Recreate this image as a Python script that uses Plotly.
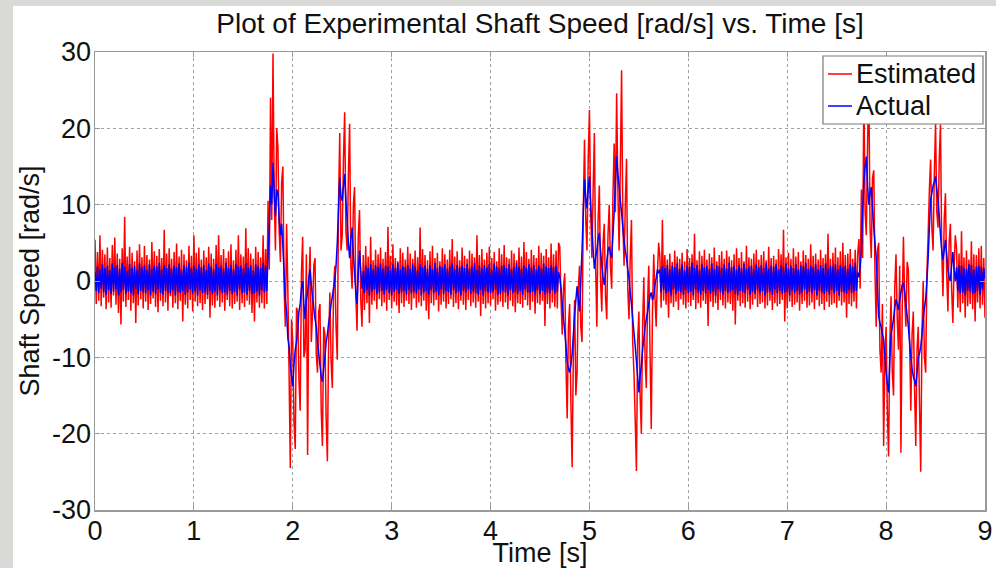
import plotly.graph_objects as go

SAMPLE_STEP = 0.0125  # s

# Estimated shaft speed [rad/s], one value per sample
estimated_speed = [
    # quiet 0.0000 - 1.7375 s
    5.4, -3.0, 3.8, -2.6, 6.0, -3.3, 4.1, -2.2, 3.5, -3.7,
    4.4, -2.8, 3.0, -3.5, 4.7, -1.9, 5.7, -3.1, 3.6, -4.2,
    2.9, -5.7, 4.3, -2.7, 8.4, -3.4, 3.2, -2.5, 4.5, -3.9,
    3.7, -2.9, 2.6, -5.5, 4.0, -3.2, 4.8, -2.4, 3.1, -3.6,
    4.6, -2.7, 3.4, -3.8, 2.8, -3.0, 5.1, -2.3, 3.9, -3.4,
    3.3, -4.1, 4.2, -2.6, 3.0, -3.3, 6.7, -2.8, 3.6, -3.9,
    4.3, -2.0, 2.9, -3.5, 3.8, -2.9, 4.9, -3.7, 3.2, -2.6,
    4.1, -5.3, 3.5, -3.1, 2.7, -3.6, 4.6, -2.5, 3.3, -4.0,
    6.0, -2.7, 3.7, -3.3, 4.4, -2.9, 2.8, -3.8, 4.0, -3.0,
    3.1, -2.4, 4.5, -4.8, 3.6, -3.2, 2.9, -3.5, 4.7, -2.6,
    6.0, -3.4, 3.4, -2.8, 4.2, -3.9, 3.0, -2.5, 3.9, -3.3,
    4.8, -3.6, 2.7, -3.0, 4.1, -2.7, 6.0, -3.8, 3.5, -2.9,
    3.2, -3.4, 6.9, -2.6, 4.3, -3.1, 3.6, -4.2, 2.9, -5.3,
    4.5, -2.8, 3.8, -3.5, 3.1, -2.9, 6.0, -3.6, 4.2, -3.0,
    # event 1.7500 - 2.7000 s
    10.5, 1.5, 24.0, 8.0, 29.8, 11.0, 4.0, 20.0, 17.5, 6.5,
    2.5, 13.0, 15.0, -1.0, -6.0, 7.5, -1.0, -12.0, -24.5, -5.0,
    -8.0, -18.5, -22.0, -3.5, -4.0, -13.0, -17.0, 1.0, 5.8, -10.0,
    -9.0, 3.5, -22.8, -1.0, 4.5, -8.0, -4.0, 2.0, 3.0, -9.5,
    -12.0, -4.0, -3.0, -17.0, -21.6, -6.0, -7.0, -18.0, -23.6, -8.0,
    -1.5, -10.5, -14.0, -1.0, 2.0, -6.0, -10.3, 10.0, 19.4, 4.0,
    6.0, 16.0, 22.1, 6.5, 4.0, 14.0, 20.6, 2.0, -1.0, 10.0,
    12.3, -2.0, -6.5, 6.0, 9.3, -2.5, -6.0,
    # quiet 2.7125 - 4.6875 s
    3.4, -3.8, 4.6,
    -2.9, 3.2, -5.5, 5.8, -3.1, 2.7, -2.6, 4.1, -3.7, 3.5,
    -2.4, 4.4, -3.3, 2.9, -2.8, 3.8, -3.9, 7.1, -2.5, 3.3,
    -3.6, 4.8, -2.7, 3.0, -3.2, 2.6, -4.2, 4.3, -2.9, 3.7,
    -3.4, 2.8, -2.6, 4.5, -3.0, 3.6, -3.8, 2.9, -2.3, 4.0,
    -3.5, 3.1, -2.8, 7.0, -3.3, 4.2, -2.6, 3.4, -3.9, 2.7,
    -5.0, 3.9, -2.9, 4.6, -3.2, 3.0, -2.5, 3.7, -4.0, 2.6,
    -3.1, 4.3, -2.7, 3.5, -3.6, 2.8, -3.0, 4.1, -2.4, 5.5,
    -3.4, 3.2, -2.9, 3.9, -3.7, 2.7, -2.6, 4.4, -3.1, 3.3,
    -3.8, 2.9, -2.5, 4.0, -3.3, 3.6, -2.8, 3.1, -3.5, 6.0,
    -2.7, 3.4, -4.6, 4.2, -3.0, 2.8, -3.6, 3.7, -2.9, 4.5,
    -3.2, 3.0, -2.4, 3.8, -3.9, 2.6, -3.1, 4.3, -2.7, 3.5,
    -3.4, 4.7, -2.8, 3.1, -3.7, 2.9, -2.6, 4.0, -3.3, 3.6,
    -4.1, 2.7, -2.9, 4.4, -3.0, 3.2, -3.5, 5.1, -2.5, 3.8,
    -3.2, 2.9, -3.8, 4.1, -2.7, 3.4, -4.3, 3.0, -2.9, 4.6,
    -3.1, 3.7, -2.6, 3.3, -5.9, 4.2, -3.0, 3.1, -3.6, 4.9,
    -2.8, 3.5, -3.4, 4.0, -3.6, 5.0,
    # event 4.7000 - 5.7000 s
    4.5, -2.5, -7.0, -1.0, 1.0, -11.0, -18.0, -6.0, -3.0, -16.0,
    -24.4, -9.0, -2.5, -15.0, -12.0, -1.0, 2.0, -6.0, -8.0, 9.0,
    18.5, 8.0, 4.0, 16.0, 22.4, 9.0, 3.0, 12.0, 19.4, 2.0,
    -6.0, 8.0, 12.5, 0.0, -4.0, 5.0, 7.5, -2.0, -5.0, 6.0,
    10.0, 2.0, -1.0, 11.0, 18.0, 9.0, 24.6, 12.0, 4.0, 15.0,
    27.6, 8.0, 2.0, 10.0, 16.0, -1.0, -5.0, 3.0, 8.0, -8.0,
    -12.0, -18.0, -24.9, -8.0, -4.0, -15.0, -20.0, -6.0, 0.5, -10.0,
    -14.0, -3.0, 2.0, -9.0, -19.4, -4.0, 3.5, -2.0, -6.0, 1.0,
    5.0,
    # quiet 5.7125 - 7.7125 s
    3.1, -3.5, 8.0,
    -2.6, 3.4, -3.1, 2.8, -4.8, 3.6, -2.9, 2.5, -3.4, 4.0,
    -2.7, 3.2, -3.8, 2.9, -2.4, 3.7, -3.1, 2.6, -3.6, 4.2,
    -2.8, 3.0, -3.3, 3.5, -2.5, 6.2, -3.7, 2.7, -2.9, 3.9,
    -3.5, 3.3, -2.6, 4.1, -3.0, 2.8, -5.9, 3.6, -2.7, 3.1,
    -3.4, 4.4, -2.9, 2.6, -3.8, 3.4, -2.5, 3.9, -3.2, 2.9,
    -3.6, 4.0, -2.8, 3.2, -3.0, 2.7, -3.9, 3.5, -5.7, 4.3,
    -2.6, 3.0, -3.3, 3.8, -2.9, 2.6, -3.5, 4.6, -2.7, 3.1,
    -3.7, 2.9, -3.1, 3.6, -2.4, 4.1, -3.4, 2.8, -3.0, 3.4,
    -2.8, 3.9, -3.6, 2.7, -3.2, 4.5, -2.6, 3.0, -3.8, 3.3,
    -2.9, 2.8, -3.3, 4.2, -3.0, 3.5, -2.5, 6.7, -5.3, 3.1,
    -3.6, 3.7, -2.7, 2.9, -3.4, 4.3, -3.1, 3.2, -2.8, 3.8,
    -3.9, 2.6, -3.0, 4.0, -2.6, 3.4, -3.5, 2.9, -3.2, 4.8,
    -2.8, 3.3, -3.7, 3.6, -2.5, 2.8, -3.3, 4.1, -3.0, 3.0,
    -3.8, 3.5, -2.7, 6.2, -3.4, 2.9, -3.1, 3.7, -2.9, 4.4,
    -3.5, 3.1, -2.6, 3.9, -3.2, 5.0, -2.8, 3.4, -4.8, 3.6,
    -3.0, 4.2, -3.3, 2.9, -2.7, 4.1, -3.6, 3.5,
    # event 7.7250 - 8.7000 s
    5.5, -1.0, 12.0, 3.0, 25.0, 9.0, 6.0, 18.0, 26.0, 7.0,
    3.0, 13.5, 14.5, 1.0, -6.0, 4.0, 5.0, -9.0, -12.0, -3.0,
    -21.6, -10.0, -6.0, -17.0, -23.0, -8.0, -2.0, -12.0, -15.0, -1.0,
    3.5, -5.0, -9.0, 2.0, -22.5, -4.0, 5.8, -2.0, -6.0, 2.5,
    1.5, -8.0, -17.0, -7.0, -4.0, -14.0, -21.6, -9.0, -6.0, -16.0,
    -25.0, -7.0, 0.0, -10.0, -12.0, 1.0, 6.0, 12.0, 15.9, 7.0,
    4.0, 14.0, 20.7, 9.0, 7.0, 16.0, 20.5, 4.0, -2.0, 8.0,
    11.5, 1.0, -4.0, 5.0, 7.5, -1.0, -5.5, 2.0, 6.0,
    # quiet 8.7125 - 9.0000 s
    4.2, -3.5, 3.6, -4.1, 6.5, -2.9, 3.1, -4.8, 4.0, -3.3,
    2.8, -3.0, 5.2, -3.7, 3.5, -5.3, 3.4, -2.8, 4.3, -3.6,
    4.6, -3.1, 3.0, -4.8,
]

# Actual shaft speed [rad/s]
actual_speed = [
    # quiet 0.0000 - 1.7375 s
    1.2, -1.3, 1.9, -1.6, 1.5, -1.0, 2.2, -1.5, 1.7, -1.8,
    2.0, -1.2, 1.4, -1.7, 2.3, -1.4, 1.8, -1.1, 2.1, -1.9,
    1.6, -1.5, 2.4, -1.2, 1.9, -1.7, 1.3, -1.4, 2.2, -1.6,
    1.7, -1.9, 2.0, -1.1, 1.5, -1.8, 2.3, -1.3, 1.8, -1.5,
    2.1, -1.6, 1.4, -1.2, 2.2, -1.9, 1.6, -1.4, 2.0, -1.7,
    1.9, -1.1, 2.4, -1.6, 1.5, -1.8, 2.1, -1.3, 1.7, -1.5,
    2.2, -1.7, 1.6, -1.2, 2.0, -1.9, 1.8, -1.4, 2.3, -1.6,
    1.5, -1.3, 2.1, -1.8, 1.9, -1.5, 2.4, -1.1, 1.7, -1.7,
    2.0, -1.4, 1.6, -1.9, 2.2, -1.2, 1.8, -1.6, 2.1, -1.5,
    1.4, -1.8, 2.3, -1.3, 1.9, -1.7, 1.5, -1.4, 2.2, -1.9,
    1.8, -1.2, 2.0, -1.6, 1.6, -1.5, 2.4, -1.8, 1.7, -1.3,
    2.1, -1.7, 1.5, -1.4, 2.2, -1.9, 1.9, -1.1, 2.0, -1.6,
    1.6, -1.5, 2.3, -1.8, 1.8, -1.3, 2.1, -1.7, 1.4, -1.6,
    2.2, -1.4, 1.9, -1.9, 1.7, -1.2, 2.4, -1.5, 2.0, -1.3,
    # event 1.7500 - 2.7000 s
    3.5, 7.0, 12.5, 10.0, 15.5, 11.5, 8.5, 12.0, 11.5, 8.0,
    6.0, 7.5, 4.5, 1.0, -2.5, -4.0, -7.5, -8.5, -11.0, -12.5,
    -13.8, -11.0, -9.0, -8.0, -6.5, -4.0, -3.0, -1.0, 0.0, -3.0,
    -5.0, -2.5, -1.5, 0.5, 1.5, -0.5, -2.0, -3.5, -5.0, -6.0,
    -8.0, -9.5, -11.0, -12.5, -13.2, -11.5, -10.0, -8.0, -7.0, -5.5,
    -4.5, -3.0, -2.0, -1.0, 0.0, 2.0, 5.0, 9.5, 13.5, 11.0,
    10.5, 12.5, 14.0, 10.5, 8.0, 5.0, 3.0, 5.5, 7.0, 3.5,
    1.0, -1.5, -3.0, 1.0, 4.0, 1.5, -1.0,
    # quiet 2.7125 - 4.6875 s
    1.3, -1.6, 2.0,
    -1.2, 1.7, -1.9, 2.2, -1.4, 1.5, -1.1, 2.1, -1.7, 1.8,
    -1.5, 2.3, -1.3, 1.6, -1.8, 2.0, -1.2, 1.9, -1.6, 1.4,
    -1.9, 2.2, -1.4, 1.7, -1.1, 2.4, -1.7, 1.5, -1.5, 2.0,
    -1.3, 1.8, -1.8, 2.1, -1.2, 1.6, -1.6, 2.3, -1.4, 1.9,
    -1.7, 1.4, -1.1, 2.2, -1.9, 1.8, -1.5, 2.0, -1.3, 1.6,
    -1.8, 2.1, -1.2, 1.5, -1.6, 2.4, -1.4, 1.7, -1.9, 2.0,
    -1.1, 1.8, -1.7, 2.2, -1.3, 1.6, -1.5, 1.9, -1.8, 2.3,
    -1.2, 1.5, -1.6, 2.1, -1.4, 1.8, -1.9, 2.0, -1.3, 1.7,
    -1.5, 2.2, -1.1, 1.6, -1.7, 1.9, -1.4, 2.4, -1.6, 1.5,
    -1.8, 2.0, -1.2, 1.7, -1.9, 2.1, -1.3, 1.8, -1.5, 2.2,
    -1.6, 1.4, -1.4, 2.3, -1.1, 1.9, -1.8, 1.6, -1.7, 2.0,
    -1.3, 2.1, -1.5, 1.7, -1.9, 2.2, -1.2, 1.5, -1.6, 1.8,
    -1.4, 2.4, -1.7, 1.9, -1.3, 1.6, -1.8, 2.0, -1.1, 1.7,
    -1.5, 2.2, -1.6, 1.8, -1.4, 2.1, -1.9, 1.5, -1.2, 2.0,
    -1.7, 1.6, -1.3, 2.3, -1.8, 1.9, -1.5, 1.7, -1.6, 2.1,
    -1.2, 1.8, -1.7, 2.0, -1.4, 1.2,
    # event 4.7000 - 5.7000 s
    0.5, -1.0, -3.0, -5.0, -6.5, -8.5, -10.5, -11.5, -12.0, -11.0,
    -9.5, -7.0, -4.5, -2.5, -0.7, -2.5, -4.0, 0.0, 4.0, 9.0,
    13.3, 11.0, 9.5, 12.0, 13.7, 10.0, 7.0, 4.0, 1.6, 3.0,
    4.0, 5.5, 6.3, 4.0, 2.0, 0.5, -0.5, 1.0, 2.5, 4.0,
    4.5, 3.5, 3.0, 6.0, 9.0, 13.0, 16.3, 14.0, 12.5, 10.5,
    9.0, 7.0, 5.2, 4.0, 3.0, 1.5, 0.4, -1.5, -3.0, -5.0,
    -6.7, -8.5, -10.5, -12.5, -14.6, -12.5, -11.0, -9.0, -7.6, -6.0,
    -5.0, -4.0, -3.0, -2.0, -1.5, -2.5, -2.0, -0.5, 0.4, 1.5,
    1.0,
    # quiet 5.7125 - 7.7125 s
    1.5, -1.5, 1.9,
    -1.2, 1.7, -1.6, 2.1, -1.4, 1.5, -1.9, 2.0, -1.1, 1.8,
    -1.7, 2.3, -1.3, 1.6, -1.5, 2.2, -1.8, 1.4, -1.2, 2.0,
    -1.6, 1.9, -1.4, 2.4, -1.9, 1.7, -1.1, 2.1, -1.5, 1.5,
    -1.8, 2.2, -1.3, 1.8, -1.6, 2.0, -1.2, 1.6, -1.7, 2.3,
    -1.4, 1.5, -1.9, 2.1, -1.1, 1.9, -1.5, 1.7, -1.8, 2.2,
    -1.3, 1.6, -1.6, 2.4, -1.4, 1.8, -1.2, 2.0, -1.7, 1.5,
    -1.9, 2.1, -1.3, 1.7, -1.5, 2.3, -1.6, 1.6, -1.1, 1.9,
    -1.8, 2.0, -1.4, 1.5, -1.7, 2.2, -1.2, 1.8, -1.6, 2.1,
    -1.3, 1.7, -1.9, 2.4, -1.5, 1.6, -1.4, 2.0, -1.8, 1.9,
    -1.1, 2.2, -1.6, 1.5, -1.3, 2.1, -1.7, 1.8, -1.5, 2.3,
    -1.4, 1.6, -1.9, 2.0, -1.2, 1.7, -1.6, 2.2, -1.3, 1.5,
    -1.8, 2.1, -1.5, 1.9, -1.1, 2.4, -1.7, 1.6, -1.4, 2.0,
    -1.6, 1.8, -1.2, 2.2, -1.9, 1.5, -1.3, 2.1, -1.5, 1.7,
    -1.7, 2.3, -1.4, 1.6, -1.8, 2.0, -1.2, 1.9, -1.6, 2.2,
    -1.3, 1.5, -1.9, 2.1, -1.4, 1.8, -1.5, 2.0, -1.7, 1.6,
    -1.2, 2.2, -1.6, 1.9, -1.4, 2.4, -1.3, 1.1,
    # event 7.7250 - 8.7000 s
    0.5, 2.0, 4.0, 9.0, 13.0, 15.0, 16.3, 12.5, 10.0, 11.5,
    12.3, 9.5, 7.0, 5.0, 3.0, -1.0, -4.6, -5.5, -6.0, -7.0,
    -7.6, -10.0, -12.0, -13.5, -14.6, -10.5, -7.0, -6.0, -5.0, -3.5,
    -2.4, -3.0, -3.8, -2.5, -1.5, -0.5, -0.2, -1.5, -3.0, -4.5,
    -6.0, -8.0, -10.0, -11.5, -12.5, -13.0, -13.8, -12.0, -10.0, -9.5,
    -8.6, -7.0, -5.0, -3.5, -2.4, 0.0, 3.0, 7.0, 10.6, 11.5,
    12.5, 13.0, 13.7, 12.0, 10.6, 8.5, 6.0, 4.0, 2.8, 4.0,
    5.4, 3.5, 1.5, 0.5, 0.0, 2.0, 3.8, 1.5, 0.0,
    # quiet 8.7125 - 9.0000 s
    1.8, -1.3, 2.1, -1.6, 2.0, -1.5, 1.7, -1.9, 1.6, -1.2,
    2.2, -1.4, 2.1, -1.7, 1.5, -1.6, 1.9, -1.3, 2.0, -1.8,
    1.8, -1.1, 1.7, 0.3,
]

time_s = [round(SAMPLE_STEP * i, 4) for i in range(len(estimated_speed))]

x_ticks = [0, 1, 2, 3, 4, 5, 6, 7, 8, 9]
x_tick_labels = ["0", "1", "2", "3", "4", "5", "6", "7", "8", "9"]
y_ticks = [-30, -20, -10, 0, 10, 20, 30]
y_tick_labels = ["-30", "-20", "-10", "0", "10", "20", "30"]
series_names = ["Estimated", "Actual"]
series_colors = ["#ff0000", "#0000ff"]

FONT = "Liberation Sans, Arial, sans-serif"
TXT = "#111111"

W, H = 996, 568
L, R, T, B = 95, 11, 52, 58
pw, ph = W - L - R, H - T - B


def px_x(p):  # pixel column -> paper x
    return (p - L) / pw


def px_y(p):  # pixel row -> paper y
    return (H - B - p) / ph


fig = go.Figure()
for name, ys, col in zip(series_names, [estimated_speed, actual_speed], series_colors):
    fig.add_trace(go.Scatter(x=time_s, y=ys, mode="lines", name=name,
                             line=dict(color=col, width=1.5, simplify=False),
                             showlegend=False, hoverinfo="skip"))

# white figure panel over the gray slide background
fig.add_shape(type="rect", xref="paper", yref="paper", layer="below",
              x0=px_x(13), x1=px_x(W + 5), y0=px_y(H + 5), y1=px_y(6),
              fillcolor="white", line=dict(width=0))

# legend box (MATLAB style)
fig.add_shape(type="rect", xref="paper", yref="paper", layer="above",
              x0=px_x(823), x1=px_x(983), y0=px_y(124), y1=px_y(56),
              fillcolor="white", line=dict(color="#7a7a7a", width=1.2))
for k, (name, col) in enumerate(zip(series_names, series_colors)):
    yy = 74 + 32 * k
    fig.add_shape(type="line", xref="paper", yref="paper", layer="above",
                  x0=px_x(828), x1=px_x(852), y0=px_y(yy), y1=px_y(yy),
                  line=dict(color=col, width=1.5))
    fig.add_annotation(text=name, xref="paper", yref="paper",
                       x=px_x(854), y=px_y(yy), xanchor="left", yanchor="middle",
                       showarrow=False, font=dict(family=FONT, size=27, color=TXT))

axis_common = dict(
    showline=True, linecolor="#9a9a9a", linewidth=1.5, mirror="ticks",
    ticks="inside", ticklen=5, tickcolor="#9a9a9a",
    showgrid=True, gridcolor="#a0a0a0", griddash="dot", gridwidth=1,
    zeroline=False, automargin=False,
    tickfont=dict(family=FONT, size=27, color=TXT),
)

fig.update_layout(
    width=W, height=H,
    margin=dict(l=L, r=R, t=T, b=B, autoexpand=False),
    paper_bgcolor="#d9d9d7", plot_bgcolor="white",
    showlegend=False,
    title=dict(text="Plot of Experimental Shaft Speed [rad/s] vs. Time [s]",
               font=dict(family=FONT, size=28, color=TXT),
               x=540 / W, xref="container", xanchor="center",
               y=1 - 23 / H, yref="container", yanchor="middle"),
    xaxis=dict(range=[0, 9], tickvals=x_ticks, ticktext=x_tick_labels,
               ticklabelstandoff=-4,
               title=dict(text="Time [s]", font=dict(family=FONT, size=27, color=TXT), standoff=4),
               **axis_common),
    yaxis=dict(range=[-30, 30], tickvals=y_ticks, ticktext=y_tick_labels,
               ticklabelstandoff=-3,
               title=dict(text="Shaft Speed [rad/s]", font=dict(family=FONT, size=27, color=TXT), standoff=4),
               **axis_common),
)

fig.write_html(
    "out.html",
    config={"displayModeBar": False, "staticPlot": True},
    post_script="document.body.style.margin='0';document.body.style.overflow='hidden';"
                "document.body.style.background='#d9d9d7';",
)
